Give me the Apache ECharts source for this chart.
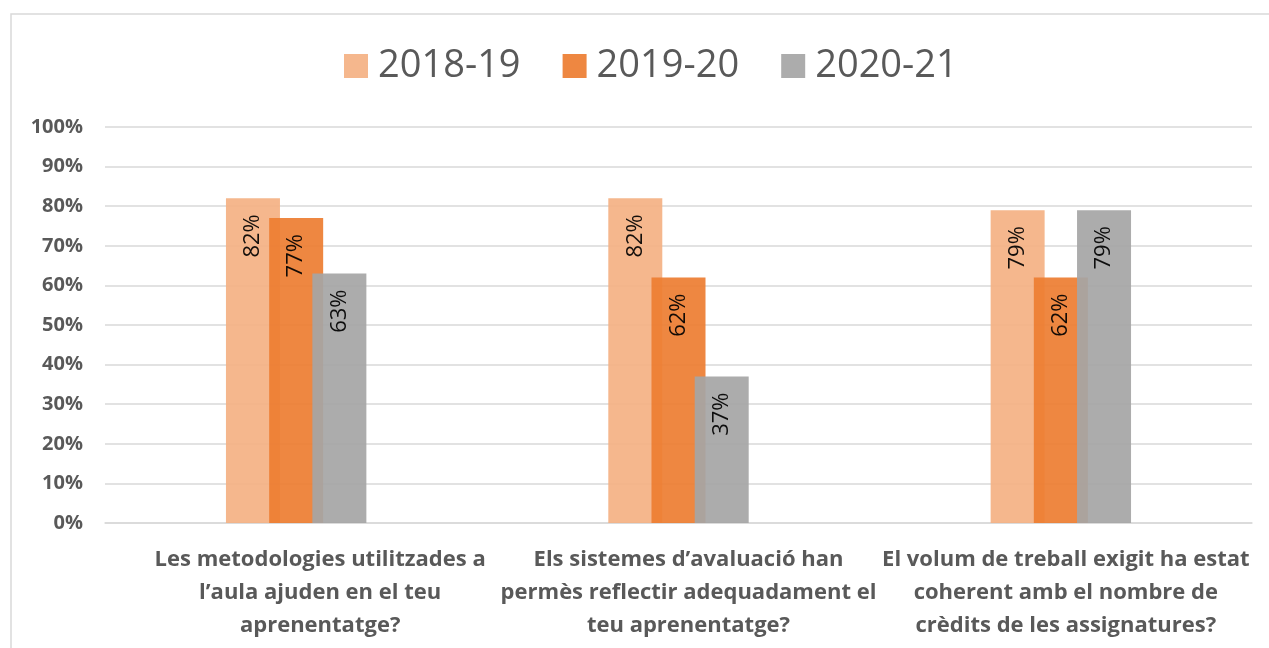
<!DOCTYPE html>
<html>
<head>
<meta charset="utf-8">
<script src="https://cdn.jsdelivr.net/npm/echarts@6/dist/echarts.min.js"></script>
<style>
html, body { margin: 0; padding: 0; background: #fff; }
#main { width: 1269px; height: 648px; }
</style>
</head>
<body>
<div id="main"></div>
<script>
// dades
var categories = [
    'Les metodologies utilitzades a\nl\u2019aula ajuden en el teu\naprenentatge?',
    'Els sistemes d\u2019avaluació han\npermès reflectir adequadament el\nteu aprenentatge?',
    'El volum de treball exigit ha estat\ncoherent amb el nombre de\ncrèdits de les assignatures?'
];
var seriesNames = ['2018-19', '2019-20', '2020-21'];
var values1819 = [82, 82, 79];
var values1920 = [77, 62, 62];
var values2021 = [63, 37, 79];
var colors = ['#F4B183', '#ED7D31', '#A5A5A5'];

// desplaçament horitzontal de les etiquetes (com a l'original)
var label_shift = [48, 20, 10];

var chart = echarts.init(document.getElementById('main'));

function make_series(name, data, color) {
    return {
        name: name,
        type: 'bar',
        data: data,
        barWidth: 54,
        barGap: '-20%',
        itemStyle: { color: color, opacity: 0.92 },
        label: {
            show: true,
            position: 'insideTop',
            distance: 16,
            rotate: 90,
            align: 'right',
            verticalAlign: 'middle',
            formatter: '{c}%',
            color: '#000',
            fontSize: 22,
            fontFamily: 'Open Sans'
        }
    };
}

var cat_data = categories.map(function(c, i) {
    return { value: c, textStyle: { padding: [0, 0, 0, label_shift[i]] } };
});

var option = {
    animation: false,
    backgroundColor: '#fff',
    graphic: [{
        type: 'rect',
        shape: { x: 11, y: 14, width: 1270, height: 700 },
        style: { fill: 'none', stroke: '#d9d9d9', lineWidth: 1.5 },
        silent: true
    }],
    legend: {
        data: seriesNames,
        top: 42,
        left: 339,
        itemWidth: 24,
        itemHeight: 24,
        itemGap: 42,
        icon: 'rect',
        textStyle: { fontSize: 38, color: '#595959', fontFamily: 'Open Sans', padding: [0, 0, 0, 5] }
    },
    grid: { left: 105, right: 17, top: 127, bottom: 125 },
    xAxis: {
        type: 'category',
        data: cat_data,
        axisLine: { lineStyle: { color: '#d9d9d9', width: 1.5 } },
        axisTick: { show: false },
        axisLabel: {
            interval: 0,
            margin: 20,
            color: '#595959',
            fontSize: 22,
            fontWeight: 'bold',
            fontFamily: 'Open Sans',
            lineHeight: 33,
            align: 'center'
        }
    },
    yAxis: {
        type: 'value',
        min: 0,
        max: 100,
        interval: 10,
        axisLabel: {
            formatter: '{value}%',
            margin: 22,
            color: '#595959',
            fontSize: 20,
            fontWeight: 'bold',
            fontFamily: 'Open Sans'
        },
        axisLine: { show: false },
        axisTick: { show: false },
        splitLine: { lineStyle: { color: '#d9d9d9', width: 1.5 } }
    },
    series: [
        make_series(seriesNames[0], values1819, colors[0]),
        make_series(seriesNames[1], values1920, colors[1]),
        make_series(seriesNames[2], values2021, colors[2])
    ]
};
chart.setOption(option);
</script>
</body>
</html>
